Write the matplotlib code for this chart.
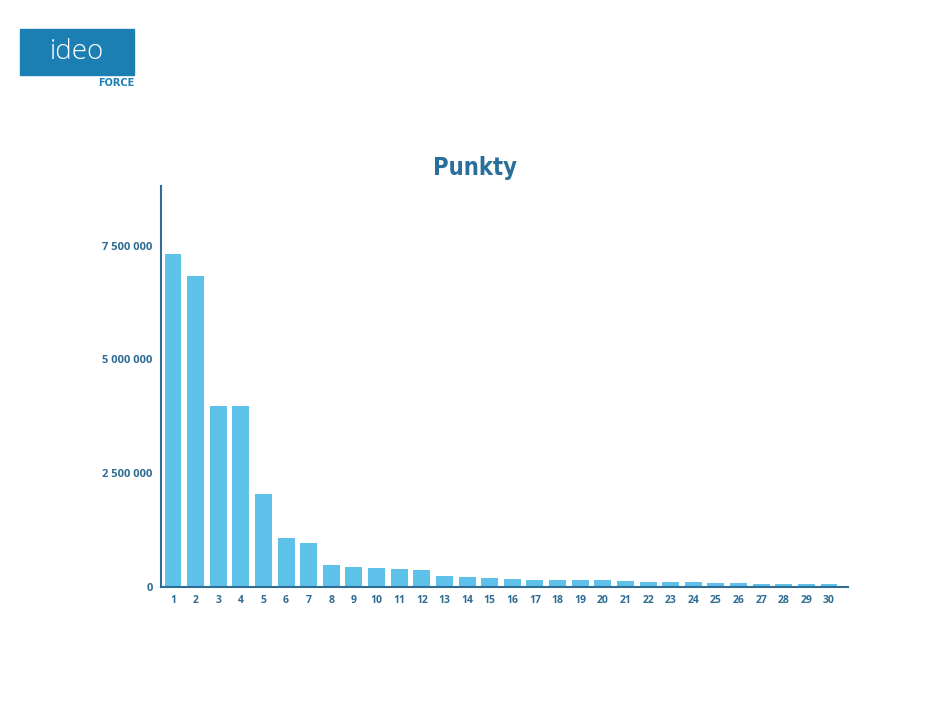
import matplotlib.pyplot as plt
from matplotlib.patches import Rectangle

# Data
positions = list(range(1, 31))
points = [7.32, 6.84, 3.98, 3.97, 2.04, 1.08, 0.96, 0.48, 0.45, 0.42,
          0.39, 0.38, 0.24, 0.23, 0.19, 0.175, 0.155, 0.155, 0.15, 0.145,
          0.14, 0.115, 0.11, 0.11, 0.09, 0.088, 0.075, 0.073, 0.06, 0.058]
points = [v * 1e6 for v in points]
y_ticks = [0, 2500000, 5000000, 7500000]
y_labels = ['0', '2 500 000', '5 000 000', '7 500 000']

bar_color = '#5ec1ea'
text_color = '#2d6c93'
axis_color = '#2f6e94'

plt.rcParams['font.family'] = ['Open Sans', 'DejaVu Sans']

fig = plt.figure(figsize=(9.5, 7.12), dpi=100)
ax = fig.add_axes([161 / 950, 1 - 587 / 712, (848 - 161) / 950, (587 - 186) / 712])

ax.bar(positions, points, width=0.75, color=bar_color, zorder=2)

ax.set_xlim(0.47, 30.84)
ax.set_ylim(0, 8.81e6)
ax.set_xticks(positions)
ax.set_xticklabels([str(p) for p in positions], fontsize=7.5, fontweight='bold',
                   color=text_color)
ax.set_yticks(y_ticks)
ax.set_yticklabels(y_labels, fontsize=8, fontweight='bold', color=text_color)
ax.tick_params(axis='both', length=0, pad=6)

for side in ['top', 'right']:
    ax.spines[side].set_visible(False)
for side in ['left', 'bottom']:
    ax.spines[side].set_color(axis_color)
    ax.spines[side].set_linewidth(1.5)

fig.text(475 / 950, 1 - 168 / 712, 'Punkty', ha='center', va='center',
         fontsize=17, fontweight='bold', fontstretch='condensed', color='#2a6f99',
         family=['DejaVu Sans'])

# logo
fig.patches.append(Rectangle((20 / 950, 1 - 75 / 712), 114 / 950, 46 / 712,
                             transform=fig.transFigure, color='#1c7fb3'))
fig.text(77 / 950, 1 - 52 / 712, 'ideo', ha='center', va='center',
         fontsize=20, fontweight='light', color='white')
fig.text(134 / 950, 1 - 83 / 712, 'FORCE', ha='right', va='center',
         fontsize=7, fontweight='heavy', color='#1c7fb3',
         family=['DejaVu Sans'])

plt.savefig('out.png', dpi=100)
plt.close()
